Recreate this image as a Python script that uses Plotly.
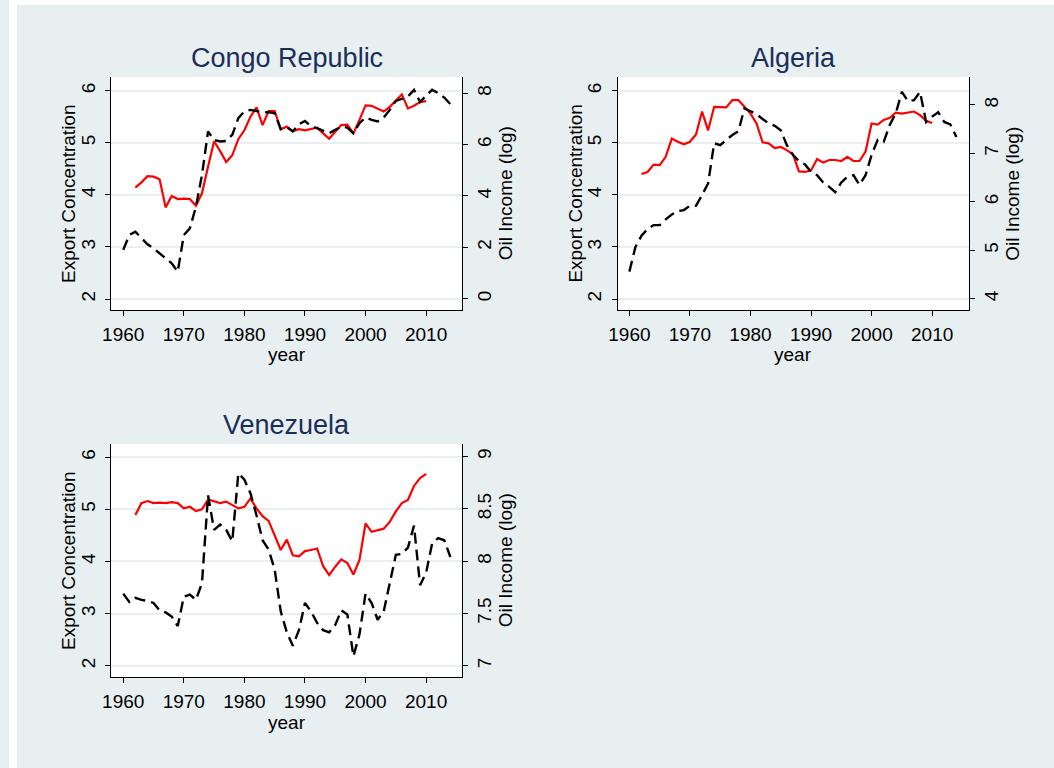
import plotly.graph_objects as go

# ---------------- data ----------------
years_ec = list(range(1962, 2011))
years_oil = list(range(1960, 2015))

congo_ec = [4.14, 4.24, 4.36, 4.35, 4.30, 3.76, 3.98, 3.92, 3.93, 3.92,
            3.79, 4.03, 4.54, 5.03, 4.84, 4.63, 4.76, 5.07, 5.24, 5.50,
            5.68, 5.34, 5.61, 5.61, 5.26, 5.31, 5.22, 5.26, 5.24, 5.26,
            5.29, 5.18, 5.08, 5.21, 5.34, 5.35, 5.18, 5.44, 5.72, 5.71,
            5.66, 5.60, 5.69, 5.82, 5.93, 5.66, 5.71, 5.78, 5.80]
congo_oil = [1.90, 2.48, 2.61, 2.35, 2.12, 1.96, 1.77, 1.60, 1.38, 1.05,
             2.48, 2.74, 3.58, 4.82, 6.51, 6.18, 6.12, 6.14, 6.38, 7.03,
             7.29, 7.35, 7.29, 7.26, 7.26, 7.22, 6.60, 6.68, 6.51, 6.79,
             6.92, 6.70, 6.64, 6.53, 6.44, 6.57, 6.70, 6.66, 6.44, 6.83,
             7.05, 6.96, 6.90, 7.05, 7.35, 7.70, 7.78, 7.87, 8.13, 7.66,
             7.90, 8.13, 8.00, 7.83, 7.57]

algeria_ec = [4.40, 4.44, 4.58, 4.57, 4.73, 5.08, 5.02, 4.97, 5.02, 5.16,
              5.60, 5.24, 5.69, 5.68, 5.68, 5.82, 5.82, 5.69, 5.56, 5.37,
              5.01, 4.99, 4.90, 4.92, 4.86, 4.78, 4.45, 4.44, 4.47, 4.69,
              4.62, 4.67, 4.67, 4.65, 4.73, 4.65, 4.65, 4.83, 5.37, 5.35,
              5.44, 5.48, 5.58, 5.56, 5.58, 5.60, 5.53, 5.42, 5.38]
algeria_oil = [4.56, 5.07, 5.30, 5.44, 5.52, 5.52, 5.64, 5.74, 5.81, 5.83,
               5.92, 5.92, 6.14, 6.38, 7.21, 7.17, 7.28, 7.38, 7.46, 7.93,
               7.87, 7.81, 7.71, 7.62, 7.57, 7.48, 7.17, 6.97, 6.84, 6.77,
               6.62, 6.55, 6.40, 6.31, 6.20, 6.40, 6.52, 6.55, 6.35, 6.55,
               6.97, 7.28, 7.24, 7.59, 7.83, 8.27, 8.08, 8.10, 8.27, 7.65,
               7.76, 7.85, 7.65, 7.60, 7.34]

venezuela_ec = [4.89, 5.12, 5.16, 5.12, 5.13, 5.12, 5.14, 5.12, 5.02, 5.05,
                4.97, 5.00, 5.19, 5.15, 5.12, 5.15, 5.08, 5.02, 5.05, 5.21,
                5.02, 4.87, 4.78, 4.51, 4.22, 4.42, 4.12, 4.10, 4.20, 4.22,
                4.25, 3.91, 3.74, 3.90, 4.04, 3.97, 3.75, 4.03, 4.73, 4.57,
                4.60, 4.63, 4.76, 4.96, 5.12, 5.18, 5.45, 5.60, 5.68]
venezuela_oil = [7.69, 7.61, 7.65, 7.63, 7.62, 7.60, 7.53, 7.51, 7.47, 7.38,
                 7.66, 7.68, 7.63, 7.79, 8.63, 8.30, 8.35, 8.30, 8.19, 8.84,
                 8.78, 8.65, 8.44, 8.20, 8.11, 7.92, 7.52, 7.32, 7.19, 7.34,
                 7.60, 7.52, 7.41, 7.34, 7.32, 7.39, 7.53, 7.49, 7.09, 7.30,
                 7.69, 7.60, 7.44, 7.52, 7.79, 8.06, 8.07, 8.13, 8.34, 7.77,
                 7.89, 8.17, 8.22, 8.20, 8.04]

country_names = ["Congo Republic", "Algeria", "Venezuela"]
x_ticks = [1960, 1970, 1980, 1990, 2000, 2010]
left_ticks = [2, 3, 4, 5, 6]
right_ticks = [[0, 2, 4, 6, 8], [4, 5, 6, 7, 8], [7, 7.5, 8, 8.5, 9]]
right_ticktext = [["0", "2", "4", "6", "8"], ["4", "5", "6", "7", "8"],
                  ["7", "7.5", "8", "8.5", "9"]]
ec_series = [congo_ec, algeria_ec, venezuela_ec]
oil_series = [congo_oil, algeria_oil, venezuela_oil]

# ---------------- layout geometry (pixels) ----------------
W, H = 1054, 768
FONT = "Liberation Sans, Arial, sans-serif"
BG = "rgb(232,239,241)"
TITLE_COLOR = "rgb(26,46,90)"

panel_px = [  # x0, x1, y0(top), y1(bottom)
    (103, 457, 77, 310),
    (614, 968, 77, 310),
    (103, 457, 444, 677),
]
x_ranges = [[1958.0, 2015.94], [1958.08, 2016.04], [1958.0, 2015.94]]
left_ranges = [[1.79, 6.263], [1.79, 6.263], [1.783, 6.255]]
right_ranges = [[-0.44, 8.63], [3.767, 8.578], [6.892, 9.121]]


def px(x):
    return x / W


def py(y):
    return 1 - y / H


fig = go.Figure()
layout = dict()
annotations = []

for i in range(3):
    xa = "x" if i == 0 else f"x{i+1}"
    yl = f"y{2*i+1}" if i > 0 else "y"
    yr = f"y{2*i+2}"
    xkey = "xaxis" if i == 0 else f"xaxis{i+1}"
    ylkey = "yaxis" if i == 0 else f"yaxis{2*i+1}"
    yrkey = f"yaxis{2*i+2}"
    x0, x1, t, b = panel_px[i]

    fig.add_trace(go.Scatter(x=years_ec, y=ec_series[i], mode="lines",
                             line=dict(color="rgb(255,0,0)", width=2.2),
                             xaxis=xa, yaxis=yl, showlegend=False,
                             name="Export Concentration"))
    fig.add_trace(go.Scatter(x=years_oil, y=oil_series[i], mode="lines",
                             line=dict(color="black", width=2.4, dash="11px,6px"),
                             xaxis=xa, yaxis=yr, showlegend=False,
                             name="Oil Income (log)"))

    common_tick = dict(ticks="outside", ticklen=5, tickwidth=1, tickcolor="black",
                       showline=True, linecolor="black", linewidth=1,
                       zeroline=False,
                       tickfont=dict(family=FONT, size=19, color="black"))
    layout[xkey] = dict(domain=[px(x0), px(x1)], range=x_ranges[i], anchor=yl,
                        tickmode="array", tickvals=x_ticks, showgrid=False,
                        ticklabelstandoff=2, **common_tick)
    layout[ylkey] = dict(domain=[py(b), py(t)], range=left_ranges[i], anchor=xa,
                         tickmode="array", tickvals=left_ticks, tickangle=-90,
                         showgrid=True, gridcolor=BG, gridwidth=2,
                         ticklabelstandoff=3, **common_tick)
    layout[yrkey] = dict(domain=[py(b), py(t)], range=right_ranges[i], anchor=xa,
                         overlaying=yl, side="right",
                         tickmode="array", tickvals=right_ticks[i],
                         ticktext=right_ticktext[i], tickangle=-90,
                         showgrid=False, **common_tick)

    cx = (x0 + x1) / 2
    annotations.append(dict(text=country_names[i], x=px(cx), y=py(t - 19),
                            xref="paper", yref="paper", showarrow=False,
                            xanchor="center", yanchor="middle",
                            font=dict(family=FONT, size=27, color=TITLE_COLOR)))
    annotations.append(dict(text="year", x=px(cx), y=py(b + 45),
                            xref="paper", yref="paper", showarrow=False,
                            xanchor="center", yanchor="middle",
                            font=dict(family=FONT, size=19, color="black")))
    annotations.append(dict(text="Export Concentration", x=px(x0 - 43),
                            y=py((t + b) / 2), xref="paper", yref="paper",
                            showarrow=False, textangle=-90,
                            xanchor="center", yanchor="middle",
                            font=dict(family=FONT, size=19, color="black")))
    annotations.append(dict(text="Oil Income (log)", x=px(x1 + 44),
                            y=py((t + b) / 2), xref="paper", yref="paper",
                            showarrow=False, textangle=-90,
                            xanchor="center", yanchor="middle",
                            font=dict(family=FONT, size=19, color="black")))

shapes = [
    dict(type="rect", xref="paper", yref="paper", x0=0, x1=1, y0=py(5), y1=1,
         fillcolor="white", line=dict(width=0), layer="below"),
    dict(type="rect", xref="paper", yref="paper", x0=0, x1=px(8), y0=0, y1=1,
         fillcolor="white", line=dict(width=0), layer="below"),
]

fig.update_layout(
    width=W, height=H,
    margin=dict(l=0, r=0, t=0, b=0),
    paper_bgcolor=BG, plot_bgcolor="white",
    showlegend=False,
    annotations=annotations, shapes=shapes,
    font=dict(family=FONT, size=19, color="black"),
    **layout,
)

post = (
    "document.body.style.margin='0';"
    "document.body.style.padding='0';"
    "document.body.style.overflow='hidden';"
    "var d=document.getElementById('{plot_id}');"
    "d.style.position='absolute';d.style.left='0px';d.style.top='0px';"
)

fig.write_html("out.html", post_script=post,
               config={"displayModeBar": False})
